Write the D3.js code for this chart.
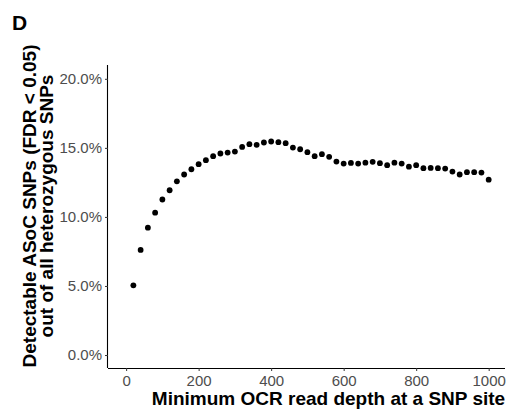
<!DOCTYPE html>
<html>
<head>
<meta charset="utf-8">
<script src="https://cdn.jsdelivr.net/npm/d3@7"></script>
<style>
  body { margin: 0; background: #fff; }
  svg text { font-family: Helvetica, Arial, "Liberation Sans", sans-serif; }
  .tick text { fill: #4d4d4d; font-size: 15px; }
  .axis-title { font-weight: bold; font-size: 19px; fill: #000; }
</style>
</head>
<body>
<div id="chart"></div>
<script>
// data
const depths = [20, 40, 60, 80, 100, 120, 140, 160, 180, 200,
    220, 240, 260, 280, 300, 320, 340, 360, 380, 400,
    420, 440, 460, 480, 500, 520, 540, 560, 580, 600,
    620, 640, 660, 680, 700, 720, 740, 760, 780, 800,
    820, 840, 860, 880, 900, 920, 940, 960, 980, 1000];
const pctDetectable = [5.05, 7.61, 9.22, 10.31, 11.26, 11.93, 12.58, 13.07, 13.45, 13.82,
    14.11, 14.40, 14.59, 14.66, 14.73, 15.07, 15.27, 15.22, 15.39, 15.46,
    15.41, 15.34, 15.02, 14.90, 14.69, 14.40, 14.54, 14.35, 14.01, 13.86,
    13.91, 13.86, 13.93, 13.99, 13.89, 13.75, 13.93, 13.86, 13.64, 13.75,
    13.53, 13.55, 13.53, 13.50, 13.28, 13.07, 13.24, 13.24, 13.21, 12.70];
const xTicks = [0, 200, 400, 600, 800, 1000];
const yTicks = [0, 5, 10, 15, 20];

const W = 509, H = 409;
const panel = { left: 108, right: 505, top: 65, bottom: 368 };

const svg = d3.select("#chart")
    .append("svg")
    .attr("width", W)
    .attr("height", H);

const x = d3.scaleLinear()
    .domain([-50, 1045])
    .range([panel.left, panel.right]);

const y = d3.scaleLinear()
    .domain([-0.94, 21.0])
    .range([panel.bottom, panel.top]);

const data = depths.map((d, i) => ({ depth: d, pct: pctDetectable[i] }));

// axes
const xAxis = svg.append("g")
    .attr("transform", `translate(0,${panel.bottom})`)
    .call(d3.axisBottom(x).tickValues(xTicks).tickSize(3).tickPadding(4.5).tickFormat(d3.format("d")));

const yAxis = svg.append("g")
    .attr("transform", `translate(${panel.left},0)`)
    .call(d3.axisLeft(y).tickValues(yTicks).tickSize(3).tickPadding(3).tickFormat(d => d.toFixed(1) + "%"));

[xAxis, yAxis].forEach(g => {
    g.select(".domain").attr("stroke", "#000").attr("stroke-width", 1.1);
    g.selectAll(".tick line").attr("stroke", "#333").attr("stroke-width", 1);
    g.selectAll(".tick text").attr("font-size", null).attr("font-family", null);
});
// domain paths without the outer ticks
xAxis.select(".domain").attr("d", `M${panel.left},0.5H${panel.right}`);
yAxis.select(".domain").attr("d", `M-0.5,${panel.top}V${panel.bottom}`);

// points
svg.append("g")
    .selectAll("circle")
    .data(data)
    .enter()
    .append("circle")
    .attr("cx", d => x(d.depth))
    .attr("cy", d => y(d.pct))
    .attr("r", 2.9)
    .attr("fill", "#000");

// titles
svg.append("text")
    .attr("class", "axis-title")
    .attr("x", 328.5)
    .attr("y", 405)
    .attr("text-anchor", "middle")
    .text("Minimum OCR read depth at a SNP site");

const yTitle = svg.append("text")
    .attr("class", "axis-title")
    .attr("transform", "translate(0,206) rotate(-90)")
    .attr("text-anchor", "middle");
yTitle.append("tspan").attr("x", 0).attr("y", 36).text("Detectable ASoC SNPs (FDR < 0.05)");
yTitle.append("tspan").attr("x", 0).attr("y", 53).text("out of all heterozygous SNPs");

svg.append("text")
    .attr("x", 12)
    .attr("y", 30)
    .attr("font-weight", "bold")
    .attr("font-size", "21px")
    .text("D");
</script>
</body>
</html>
